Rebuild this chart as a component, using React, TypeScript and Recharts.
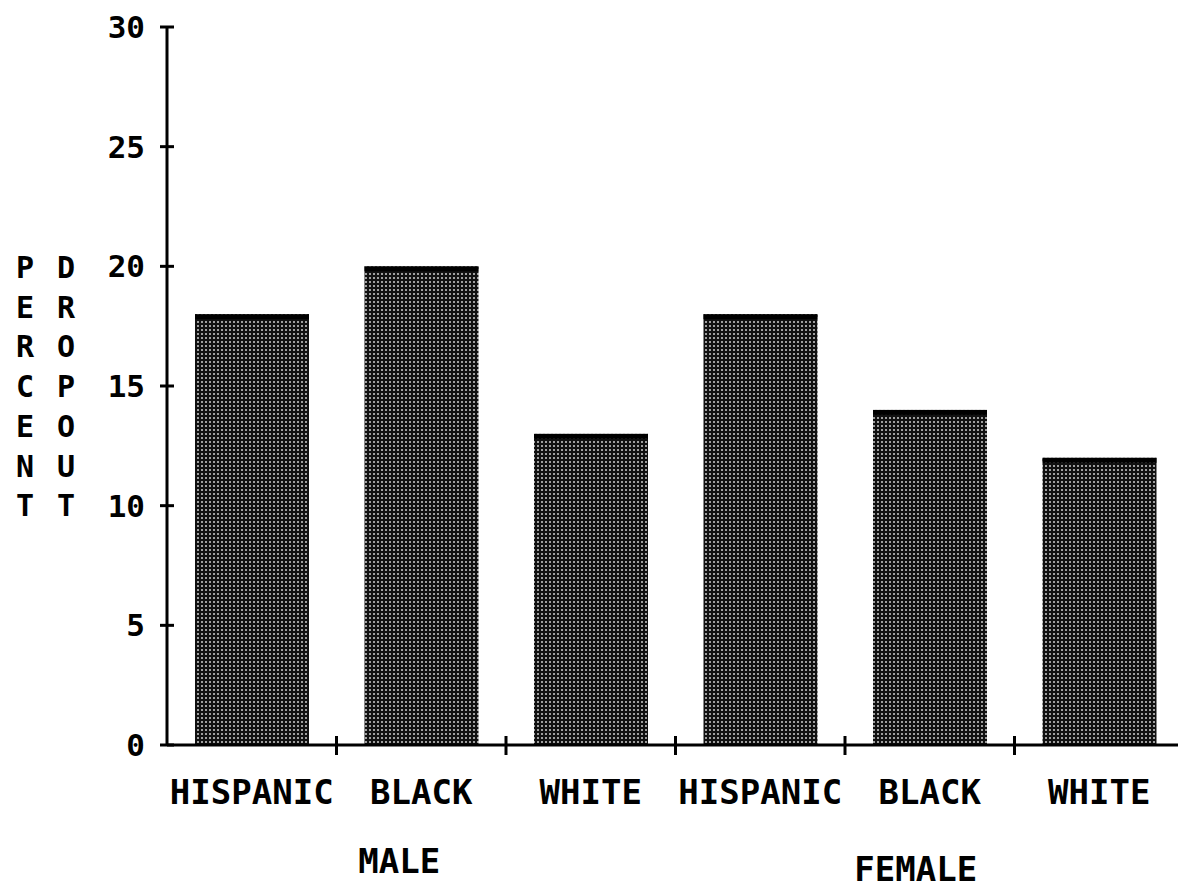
import { BarChart, Bar, XAxis, YAxis, Customized } from 'recharts';

// race categories along the x axis, grouped by sex
const categories = ['HISPANIC', 'BLACK', 'WHITE', 'HISPANIC', 'BLACK', 'WHITE'];
const groups = ['MALE', 'MALE', 'MALE', 'FEMALE', 'FEMALE', 'FEMALE'];
const dropoutPercent = [18, 20, 13, 18, 14, 12];
const yTicks = [0, 5, 10, 15, 20, 25, 30];
const yLabelLeft = 'PERCENT';
const yLabelRight = 'DROPOUT';

const chartData = categories.map((c, i) => ({
  key: `${groups[i]}-${c}`,
  race: c,
  group: groups[i],
  value: dropoutPercent[i],
}));

const FONT = '"DejaVu Sans Mono", "Liberation Mono", monospace';
const PLOT_LEFT = 167;
const PLOT_WIDTH = 1017;

function XTick(props: any) {
  const { x, y, index, payload } = props;
  const band = payload && payload.offset ? payload.offset * 2 : PLOT_WIDTH / categories.length;
  const row = chartData[index];
  const isGroupMiddle = index === 1 || index === 4;
  return (
    <g>
      {index < categories.length - 1 && (
        <line x1={x + band / 2} x2={x + band / 2} y1={y - 9} y2={y + 10} stroke="#000" strokeWidth={3} />
      )}
      <text x={x} y={y + 59} textAnchor="middle" fontFamily={FONT} fontWeight="bold" fontSize={34} fill="#000">
        {row ? row.race : payload.value}
      </text>
      {isGroupMiddle && (
        <text
          x={x - (index === 1 ? 22 : 14)}
          y={y + (index === 1 ? 128 : 136)}
          textAnchor="middle"
          fontFamily={FONT}
          fontWeight="bold"
          fontSize={34}
          fill="#000"
        >
          {row.group}
        </text>
      )}
    </g>
  );
}

function YTick(props: any) {
  const { x, y, payload } = props;
  return (
    <g>
      <line x1={x - 7} x2={x + 7} y1={y} y2={y} stroke="#000" strokeWidth={3} />
      <text x={x - 22} y={y + 11} textAnchor="end" fontFamily={FONT} fontWeight="bold" fontSize={31} fill="#000">
        {payload.value}
      </text>
    </g>
  );
}

function YLabel() {
  return (
    <g fontFamily={FONT} fontWeight="bold" fontSize={30} fill="#000">
      {yLabelLeft.split('').map((ch, i) => (
        <text key={`l${i}`} x={25} y={278 + i * 39.7} textAnchor="middle">
          {ch}
        </text>
      ))}
      {yLabelRight.split('').map((ch, i) => (
        <text key={`r${i}`} x={66} y={278 + i * 39.7} textAnchor="middle">
          {ch}
        </text>
      ))}
    </g>
  );
}

function DottedBar(props: any) {
  const { x, y, width, height } = props;
  if (!height) return null;
  return (
    <g>
      <rect x={x} y={y} width={width} height={height} fill="url(#dither)" />
      <rect x={x} y={y} width={width} height={5} fill="#000" />
    </g>
  );
}

export default function App() {
  return (
    <div style={{ position: 'absolute', left: 0, top: 0, width: 1178, height: 895, overflow: 'hidden', background: '#fff' }}>
      <BarChart
        width={1190}
        height={895}
        data={chartData}
        margin={{ top: 27, right: 1190 - PLOT_LEFT - PLOT_WIDTH, left: 0, bottom: 0 }}
        barSize={114}
      >
        <defs>
          <pattern id="dither" width={4} height={4} patternUnits="userSpaceOnUse">
            <rect width={4} height={4} fill="#111" />
            <circle cx={2} cy={2} r={1} fill="#cfcfcf" />
          </pattern>
        </defs>
        <XAxis
          dataKey="key"
          height={150}
          interval={0}
          tickSize={0}
          tickMargin={0}
          tickLine={false}
          axisLine={{ stroke: '#000', strokeWidth: 3 }}
          tick={<XTick />}
        />
        <YAxis
          width={PLOT_LEFT}
          domain={[0, 30]}
          ticks={yTicks}
          interval={0}
          tickSize={0}
          tickMargin={0}
          tickLine={false}
          axisLine={{ stroke: '#000', strokeWidth: 3 }}
          tick={<YTick />}
        />
        <Bar dataKey="value" shape={<DottedBar />} isAnimationActive={false} />
        <Customized component={<YLabel />} />
      </BarChart>
    </div>
  );
}
